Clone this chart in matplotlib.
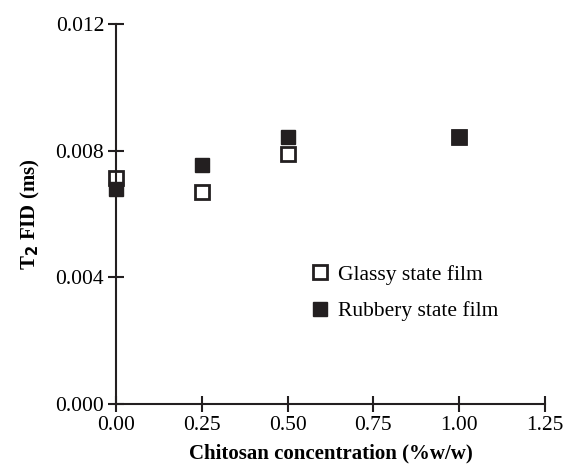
import matplotlib
matplotlib.use('Agg')
import matplotlib.pyplot as plt

conc = [0.0, 0.25, 0.5, 1.0]
glassy = [0.00714, 0.00669, 0.00789, 0.00842]
rubbery = [0.00679, 0.00755, 0.00844, 0.00843]

plt.rcParams['font.family'] = ['Liberation Serif', 'DejaVu Serif']

fig = plt.figure(figsize=(5.63, 4.68), dpi=100)
ax = fig.add_axes([0.206, 0.137, 0.762, 0.812])

ax.plot(conc, glassy, linestyle='none', marker='s', markersize=9.5,
        markerfacecolor='white', markeredgecolor='#231f20', markeredgewidth=2,
        label='Glassy state film', clip_on=False, zorder=2)
ax.plot(conc, rubbery, linestyle='none', marker='s', markersize=10,
        markerfacecolor='#231f20', markeredgecolor='#231f20',
        label='Rubbery state film', clip_on=False, zorder=3)

ax.set_xlim(0, 1.25)
ax.set_ylim(0, 0.012)
ax.set_xticks([0, 0.25, 0.5, 0.75, 1.0, 1.25])
ax.set_yticks([0, 0.004, 0.008, 0.012])
ax.xaxis.set_major_formatter(matplotlib.ticker.FormatStrFormatter('%.2f'))
ax.yaxis.set_major_formatter(matplotlib.ticker.FormatStrFormatter('%.3f'))
ax.spines['right'].set_visible(False)
ax.spines['top'].set_visible(False)
for s in ['left', 'bottom']:
    ax.spines[s].set_linewidth(1.5)
    ax.spines[s].set_color('#231f20')
ax.tick_params(direction='inout', length=11, width=1.5, labelsize=15.5,
               color='#231f20', pad=3)

ax.set_xlabel('Chitosan concentration (%w/w)', fontsize=15, fontweight='bold',
              labelpad=6)
ax.set_ylabel(r'T$_\mathbf{2}$ FID (ms)', fontsize=15, fontweight='bold',
              labelpad=10)

ax.legend(loc='center left', bbox_to_anchor=(0.406, 0.292), frameon=False,
          fontsize=15.5, handletextpad=0.3, labelspacing=0.75, markerscale=1.0,
          handlelength=1.0)

fig.savefig('out.png', dpi=100)
